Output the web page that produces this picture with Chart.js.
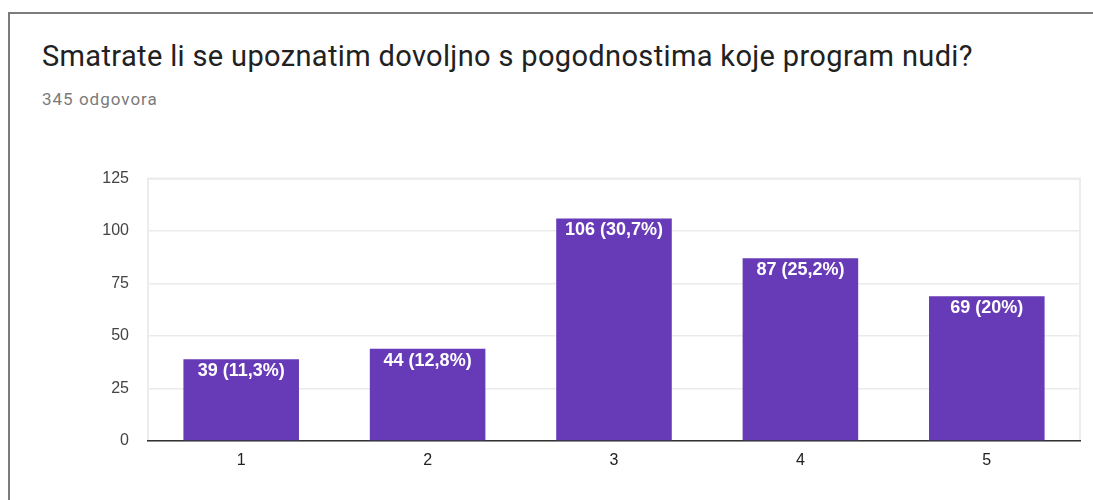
<!DOCTYPE html>
<html>
<head>
<meta charset="utf-8">
<script src="https://cdn.jsdelivr.net/npm/chart.js@4.4.0/dist/chart.umd.min.js"></script>
<style>
    html, body { margin: 0; padding: 0; background: #fff; }
    body { width: 1093px; height: 500px; position: relative; overflow: hidden; }
    .card {
        position: absolute; left: 8px; top: 12px; width: 1200px; height: 600px;
        border-top: 2px solid #7c7c7c; border-left: 2px solid #7c7c7c;
    }
    .title {
        position: absolute; left: 42px; top: 42px; margin: 0;
        font: 400 29px/29px Roboto, sans-serif; letter-spacing: 0.35px;
        color: #212121; white-space: nowrap;
    }
    .subtitle {
        position: absolute; left: 42px; top: 91px;
        font: 400 17px/17px Roboto, sans-serif; letter-spacing: 1px;
        color: #7a7a7a; white-space: nowrap;
    }
    .chart-box { position: absolute; left: 0; top: 150px; width: 1093px; height: 350px; }
</style>
</head>
<body>
<div class="card"></div>
<h1 class="title">Smatrate li se upoznatim dovoljno s pogodnostima koje program nudi?</h1>
<div class="subtitle">345 odgovora</div>
<div class="chart-box"><canvas id="chart"></canvas></div>

<script>
// Chart data
const categories = ['1', '2', '3', '4', '5'];
const answerCounts = [39, 44, 106, 87, 69];
const answerShares = ['11,3%', '12,8%', '30,7%', '25,2%', '20%'];
const yTicks = [0, 25, 50, 75, 100, 125];

const barColor = '#673ab7';
const tickFont = 'Arial, "Liberation Sans", sans-serif';

// Light frame around the plot area
const plotFrame = {
    id: 'plotFrame',
    beforeDraw(chart) {
        const { ctx, chartArea: a } = chart;
        ctx.save();
        ctx.strokeStyle = '#ececec';
        ctx.lineWidth = 2;
        ctx.strokeRect(a.left, a.top, a.right - a.left, a.bottom - a.top);
        ctx.restore();
    }
};

// Value labels inside the top of each bar
const barLabels = {
    id: 'barLabels',
    afterDatasetsDraw(chart) {
        const { ctx } = chart;
        const meta = chart.getDatasetMeta(0);
        ctx.save();
        ctx.fillStyle = '#ffffff';
        ctx.font = 'bold 18px ' + tickFont;
        ctx.textAlign = 'center';
        ctx.textBaseline = 'middle';
        meta.data.forEach((bar, i) => {
            const text = answerCounts[i] + ' (' + answerShares[i] + ')';
            ctx.fillText(text, bar.x, bar.y + 12);
        });
        ctx.restore();
    }
};

new Chart(document.getElementById('chart'), {
    type: 'bar',
    data: {
        labels: categories,
        datasets: [{
            data: answerCounts,
            backgroundColor: barColor,
            borderWidth: 0,
            categoryPercentage: 0.62,
            barPercentage: 1
        }]
    },
    options: {
        responsive: true,
        maintainAspectRatio: false,
        animation: false,
        layout: { padding: { top: 24, right: 13, left: 0, bottom: 0 } },
        plugins: {
            legend: { display: false },
            tooltip: { enabled: false }
        },
        scales: {
            x: {
                grid: { display: false, drawTicks: false },
                border: { display: true, color: '#333333', width: 1.5 },
                ticks: {
                    padding: 10,
                    color: '#222222',
                    font: { family: tickFont, size: 16 }
                },
                afterFit(scale) { scale.height = 59; }
            },
            y: {
                min: 0,
                max: 125,
                afterBuildTicks(scale) { scale.ticks = yTicks.map(v => ({ value: v })); },
                grid: { color: '#ebebeb', lineWidth: 1.5, drawTicks: false },
                border: { display: false },
                ticks: {
                    padding: 19,
                    color: '#444444',
                    font: { family: tickFont, size: 16 }
                },
                afterFit(scale) { scale.width = 148; }
            }
        }
    },
    plugins: [plotFrame, barLabels]
});
</script>
</body>
</html>
